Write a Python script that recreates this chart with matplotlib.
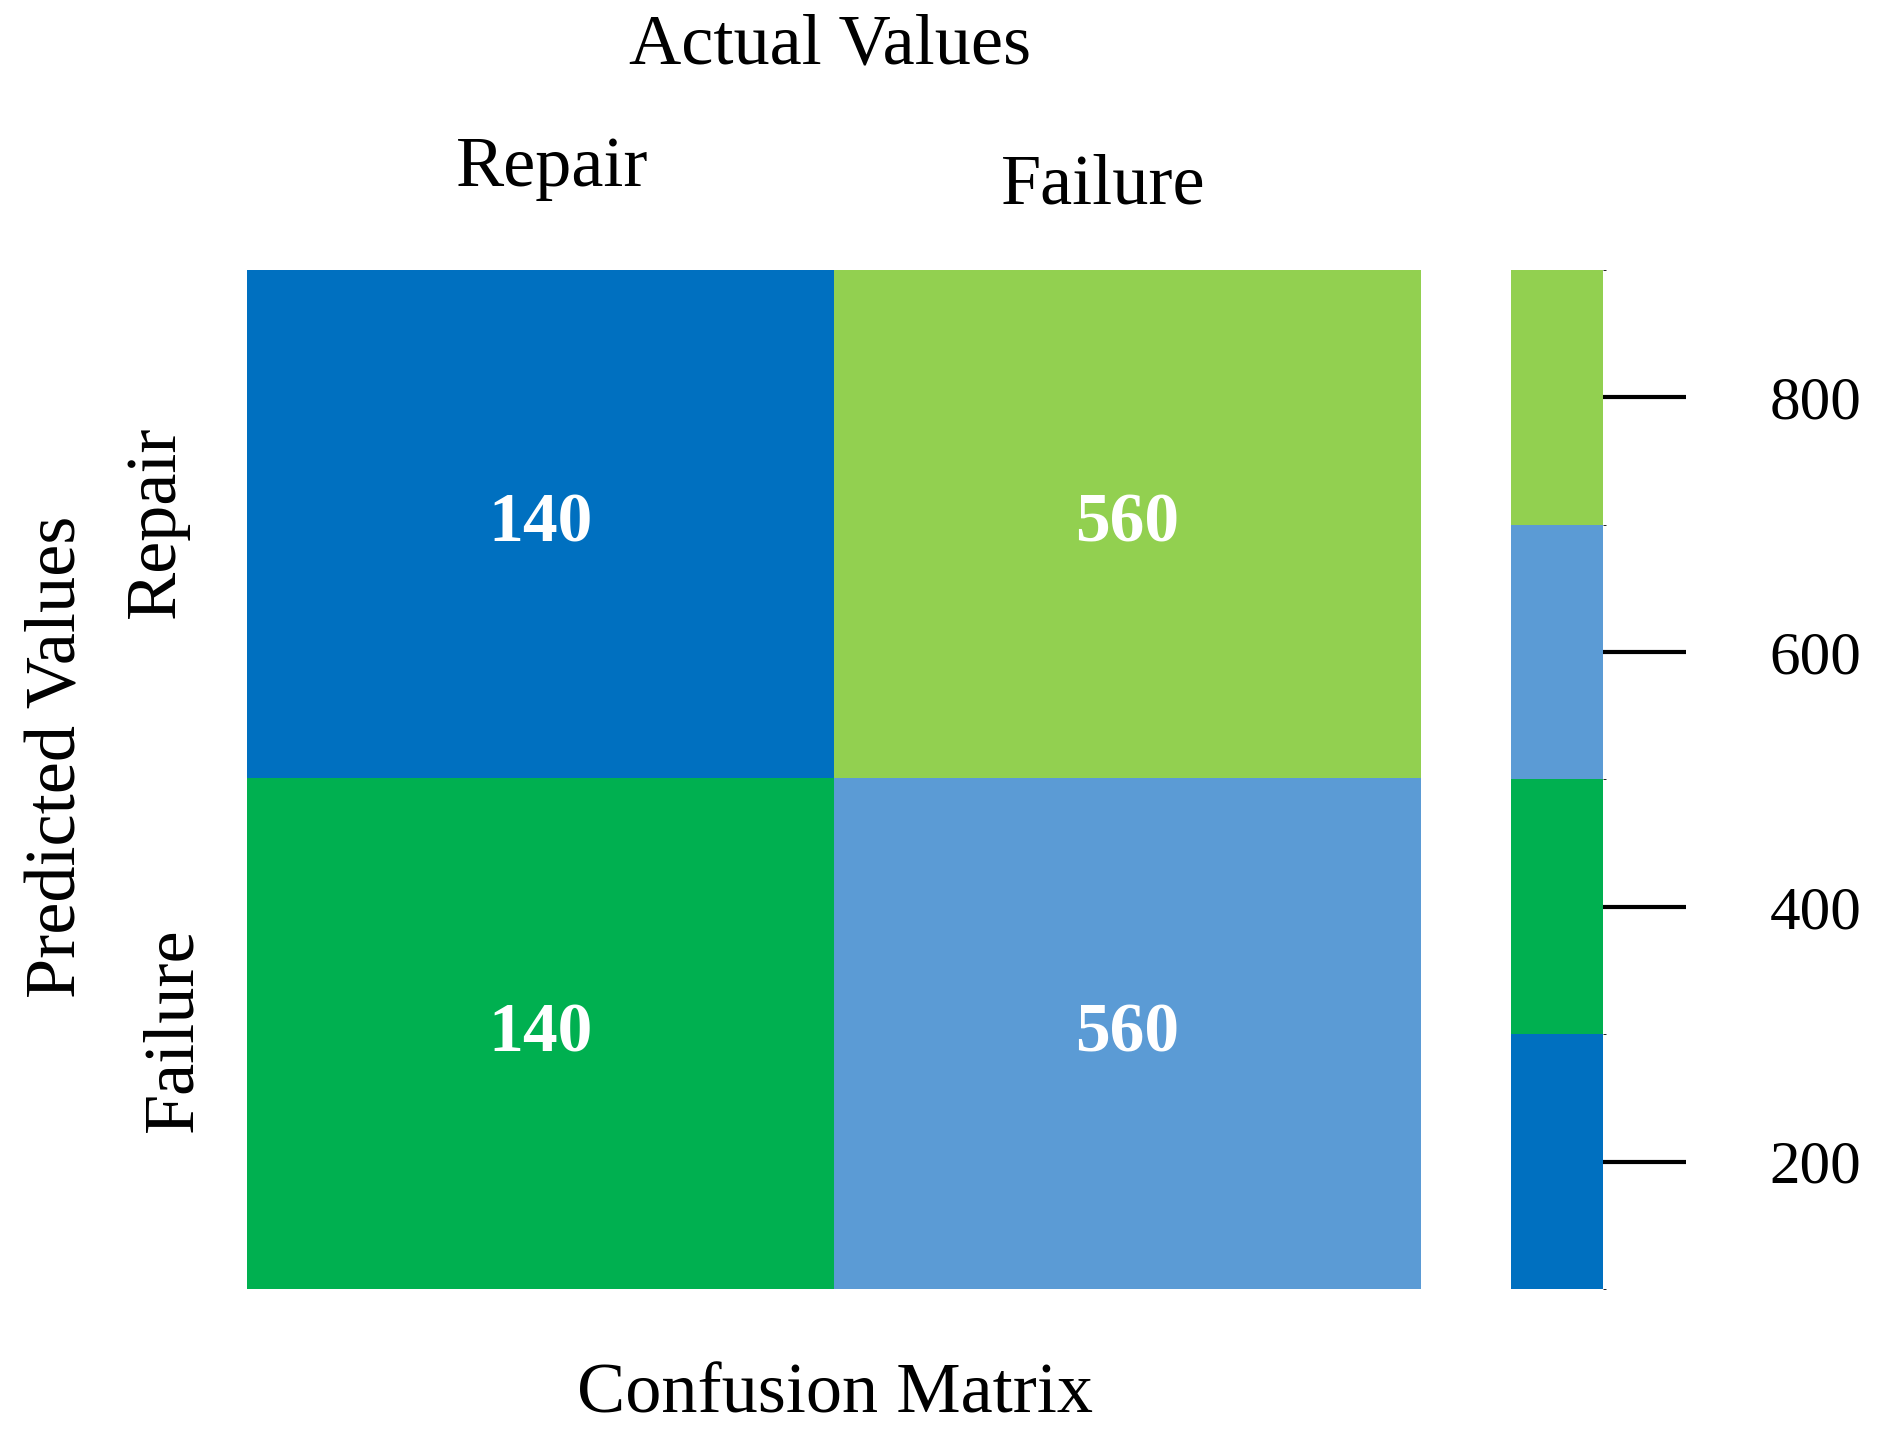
import matplotlib
matplotlib.use("Agg")
import matplotlib.pyplot as plt
import numpy as np
from matplotlib.colors import ListedColormap, BoundaryNorm

actual_labels = ["Repair", "Failure"]
predicted_labels = ["Repair", "Failure"]
counts = [[140, 560], [140, 560]]
cell_colour_index = [[0, 3], [1, 2]]
palette = ["#0070C0", "#00B050", "#5B9BD5", "#92D050"]
cbar_bounds = [100, 300, 500, 700, 900]
cbar_ticks = [200, 400, 600, 800]

plt.rcParams['font.family'] = ['Liberation Serif', 'DejaVu Serif']
fig = plt.figure(figsize=(18.86, 14.5), dpi=100)
ax = fig.add_axes([0.131, 0.111, 0.622, 0.703])
cmap = ListedColormap(palette)
ax.imshow(np.array(cell_colour_index), cmap=cmap, vmin=-0.5, vmax=3.5, aspect='auto')
for i in range(2):
    for j in range(2):
        ax.text(j, i, str(counts[i][j]), ha='center', va='center', color='white',
                fontsize=50, fontweight='bold')
ax.set_xticks([]); ax.set_yticks([])
for s in ax.spines.values():
    s.set_visible(False)

fs = 52
fig.text(0.44, 0.968, "Actual Values", ha='center', va='center', fontsize=fs)
fig.text(0.293, 0.884, actual_labels[0], ha='center', va='center', fontsize=fs)
fig.text(0.585, 0.872, actual_labels[1], ha='center', va='center', fontsize=fs)
fig.text(0.443, 0.038, "Confusion Matrix", ha='center', va='center', fontsize=fs)
fig.text(0.031, 0.478, "Predicted Values", ha='center', va='center', fontsize=fs, rotation=90)
fig.text(0.083, 0.64, predicted_labels[0], ha='center', va='center', fontsize=fs, rotation=90)
fig.text(0.092, 0.29, predicted_labels[1], ha='center', va='center', fontsize=fs, rotation=90)

cax = fig.add_axes([0.801, 0.111, 0.049, 0.703])
norm = BoundaryNorm(cbar_bounds, len(palette))
cb = fig.colorbar(plt.cm.ScalarMappable(norm=norm, cmap=cmap), cax=cax,
                  boundaries=cbar_bounds, ticks=cbar_ticks)
cb.outline.set_visible(False)
cax.tick_params(length=60, width=3, pad=60, labelsize=44)
plt.savefig("out.png", dpi=100)
